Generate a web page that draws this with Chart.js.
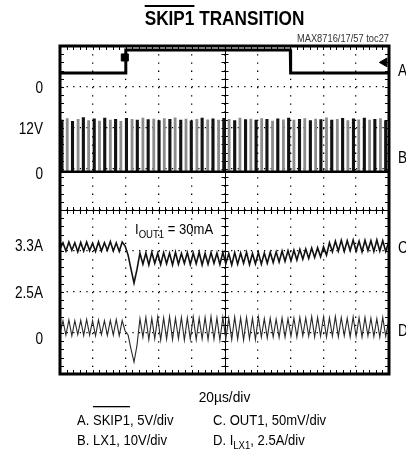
<!DOCTYPE html>
<html>
<head>
<meta charset="utf-8">
<script src="https://cdn.jsdelivr.net/npm/chart.js@4.4.0/dist/chart.umd.min.js"></script>
<style>
  html, body { margin: 0; padding: 0; background: #fff; }
  canvas { display: block; }
</style>
</head>
<body>
<canvas id="scope" width="406" height="452"></canvas>
<script>
// x in divisions (0..10, 20us/div), y in divisions (0..8 from the bottom)
var STEP = 0.09; // sample spacing of traces C and D

// A: SKIP1 level
var skipA = [[0, 7.34], [1.99, 7.34], [2.0, 7.9], [7.0, 7.9], [7.01, 7.34], [10, 7.34]];
var trigMark = [[1.97, 7.72]];
var gndMark = [[9.86, 7.6]];

// B: LX1 switching node, [start, peak]
var lxBase = [[0, 4.93], [10, 4.93]];
var lxPulses = [
  [0.04, 6.18], [0.2, 6.22], [0.36, 6.15], [0.53, 6.2], [0.69, 6.24], [0.85, 6.17],
  [1.02, 6.21], [1.18, 6.16], [1.34, 6.23], [1.51, 6.18], [1.67, 6.2], [1.83, 6.15],
  [2.0, 6.22], [2.17, 6.2], [2.33, 6.18], [2.5, 6.23], [2.66, 6.19], [2.83, 6.21],
  [2.99, 6.17], [3.15, 6.22], [3.32, 6.2], [3.48, 6.24], [3.65, 6.18], [3.81, 6.21],
  [3.97, 6.16], [4.14, 6.2], [4.3, 6.23], [4.47, 6.19], [4.63, 6.21], [4.8, 6.18],
  [4.96, 6.22], [5.12, 6.2], [5.29, 6.17], [5.45, 6.23], [5.62, 6.19], [5.78, 6.21],
  [5.94, 6.18], [6.11, 6.22], [6.27, 6.2], [6.44, 6.16], [6.6, 6.21], [6.77, 6.19],
  [6.93, 6.23], [7.09, 6.18], [7.26, 6.2], [7.42, 6.22], [7.59, 6.17], [7.75, 6.21],
  [7.91, 6.19], [8.08, 6.24], [8.24, 6.18], [8.41, 6.2], [8.57, 6.22], [8.73, 6.17],
  [8.9, 6.21], [9.06, 6.19], [9.23, 6.23], [9.39, 6.18], [9.55, 6.2], [9.72, 6.22], [9.88, 6.17]
];
var PULSE_W = 0.04;

// C: OUT1 (ac coupled)
var outC = [
  3.05, 3.2, 3.0, 3.22, 3.02, 3.2, 2.98, 3.21, 3.0, 3.22, 3.01, 3.19, 2.99, 3.22, 3.0, 3.2,
  3.02, 3.23, 3.0, 3.2, 2.99, 3.22,
  3.12, 2.9, 2.55, 2.22, 2.55, 2.95,
  2.68, 2.95, 2.66, 2.97, 2.7, 2.94, 2.67, 2.96, 2.69, 2.95, 2.66, 2.97, 2.68, 2.94, 2.7, 2.96,
  2.67, 2.95, 2.69, 2.97, 2.66, 2.94, 2.68, 2.96, 2.7, 2.95, 2.67, 2.97, 2.69, 2.94, 2.66, 2.96,
  2.68, 2.95, 2.7, 2.97, 2.67, 2.94, 2.69, 2.96, 2.68, 2.95,
  2.7, 2.97, 2.72, 2.98, 2.73, 3.0, 2.75, 3.01, 2.76, 3.02, 2.78, 3.04, 2.8, 3.05, 2.82, 3.07,
  2.84, 3.08, 2.86, 3.1, 2.9,
  3.2, 2.98, 3.24, 3.0, 3.26, 2.99, 3.25, 3.01, 3.27, 3.0, 3.24, 2.98, 3.26, 3.01, 3.25, 2.99,
  3.27, 3.0, 3.25, 2.99, 3.22
];

// D: inductor current ILX1
var ilxD = [
  1.0, 1.3, 0.95, 1.32, 0.93, 1.3, 0.96, 1.31, 0.94, 1.33, 0.95, 1.3, 0.93, 1.32, 0.96, 1.3,
  0.94, 1.31, 0.95, 1.33, 0.93, 1.3,
  1.05, 0.95, 0.6, 0.29, 0.7, 1.35,
  0.9, 1.38, 0.84, 1.36, 0.86, 1.39, 0.83, 1.37, 0.85, 1.4, 0.84, 1.36, 0.86, 1.38, 0.83, 1.37,
  0.85, 1.39, 0.84, 1.36, 0.86, 1.38, 0.84, 1.4, 0.85, 1.37, 0.83, 1.38, 0.86, 1.36, 0.84, 1.39,
  0.85, 1.37, 0.83, 1.38, 0.86, 1.36, 0.84, 1.39, 0.9, 1.35, 0.88, 1.36, 0.9, 1.34, 0.89, 1.37,
  0.9, 1.35, 0.92, 1.36, 0.9, 1.38, 0.93, 1.37, 0.92, 1.4, 0.9, 1.38, 0.92, 1.39, 0.9, 1.37,
  0.92, 1.4, 0.91, 1.38, 0.93, 1.36, 0.9, 1.39, 0.92, 1.37, 0.9, 1.38, 0.93, 1.36, 0.91, 1.35,
  0.9, 1.38, 0.92, 1.3
];

// axis text
var leftLabels = ['0', '12V', '0', '3.3A', '2.5A', '0'];
var leftLabelPos = [7.0, 6.0, 4.9, 3.15, 2.0, 0.88];
var chLabels = ['A', 'B', 'C', 'D'];
var chLabelPos = [7.41, 5.29, 3.1, 1.07];

var FAMILY = '"Liberation Sans", Arial, sans-serif';

function xy(list) {
  return list.map(function (p) { return { x: p[0], y: p[1] }; });
}

function sampled(values) {
  return values.map(function (v, i) { return { x: i * STEP, y: v }; });
}

// every other pulse goes to the grey trace
function pulses(list, odd) {
  var pts = [];
  list.forEach(function (p, i) {
    if ((i % 2 === 1) !== odd) return;
    pts.push({ x: p[0], y: lxBase[0][1] }, { x: p[0], y: p[1] },
      { x: p[0] + PULSE_W, y: p[1] }, { x: p[0] + PULSE_W, y: lxBase[0][1] },
      { x: p[0] + PULSE_W, y: null });
  });
  return pts;
}

function trace(data, color, width) {
  return {
    data: data, borderColor: color, borderWidth: width, showLine: true,
    pointRadius: 0, spanGaps: false, tension: 0
  };
}

// text with optional overline / subscript parts, squeezed horizontally
function drawText(ctx, parts, x, y, size, opts) {
  opts = opts || {};
  var sx = opts.sx || 0.86;
  var weight = opts.bold ? 'bold ' : '';
  var subSize = Math.round(size * 0.74);
  var widths = [];
  var total = 0;
  parts.forEach(function (p) {
    ctx.font = weight + (p[1] === 'sub' ? subSize : size) + 'px ' + FAMILY;
    var w = ctx.measureText(p[0]).width * sx;
    widths.push(w);
    total += w;
  });
  var cx = opts.align === 'center' ? x - total / 2 : (opts.align === 'right' ? x - total : x);
  ctx.save();
  ctx.fillStyle = opts.color || '#000';
  ctx.textAlign = 'left';
  ctx.textBaseline = 'alphabetic';
  parts.forEach(function (p, i) {
    var sub = p[1] === 'sub';
    ctx.font = weight + (sub ? subSize : size) + 'px ' + FAMILY;
    ctx.save();
    ctx.translate(cx, y + (sub ? size * 0.28 : 0));
    ctx.scale(sx, 1);
    ctx.fillText(p[0], 0, 0);
    ctx.restore();
    if (p[1] === 'over') {
      ctx.fillRect(cx, y - (opts.overAt || size), widths[i], opts.bold ? 2 : 1.3);
    }
    cx += widths[i];
  });
  ctx.restore();
}

var scopeFrame = {
  id: 'scopeFrame',
  beforeDatasetsDraw: function (chart) {
    var ctx = chart.ctx;
    var xs = chart.scales.x;
    var ys = chart.scales.y;
    var a = chart.chartArea;
    var cx = xs.getPixelForValue(5);
    var cy = ys.getPixelForValue(4);
    ctx.save();
    ctx.strokeStyle = '#000';
    ctx.lineWidth = 1;
    ctx.beginPath();
    ctx.moveTo(Math.round(cx) + 0.5, a.top);
    ctx.lineTo(Math.round(cx) + 0.5, a.bottom);
    ctx.moveTo(a.left, Math.round(cy) + 0.5);
    ctx.lineTo(a.right, Math.round(cy) + 0.5);
    // minor ticks, 5 per division
    for (var i = 1; i < 50; i++) {
      var px = Math.round(xs.getPixelForValue(i / 5)) + 0.5;
      ctx.moveTo(px, cy - 3); ctx.lineTo(px, cy + 4);
      ctx.moveTo(px, a.top); ctx.lineTo(px, a.top + 4);
      ctx.moveTo(px, a.bottom); ctx.lineTo(px, a.bottom - 4);
    }
    for (var j = 1; j < 40; j++) {
      var py = Math.round(ys.getPixelForValue(j / 5)) + 0.5;
      ctx.moveTo(cx - 3, py); ctx.lineTo(cx + 4, py);
      ctx.moveTo(a.left, py); ctx.lineTo(a.left + 4, py);
      ctx.moveTo(a.right, py); ctx.lineTo(a.right - 4, py);
    }
    ctx.stroke();
    ctx.restore();
  },
  afterDraw: function (chart) {
    var ctx = chart.ctx;
    var ys = chart.scales.y;
    var a = chart.chartArea;
    ctx.save();
    ctx.strokeStyle = '#000';
    ctx.lineWidth = 3;
    ctx.strokeRect(a.left, a.top, a.right - a.left, a.bottom - a.top);
    ctx.restore();

    var mid = (a.left + a.right) / 2;
    drawText(ctx, [['SKIP1', 'over'], [' TRANSITION', '']], mid, 25, 20,
      { bold: true, sx: 0.86, align: 'center', overAt: 20 });
    drawText(ctx, [['MAX8716/17/57 toc27', '']], a.right, 42, 10,
      { sx: 0.93, align: 'right', color: '#333' });

    leftLabels.forEach(function (t, i) {
      drawText(ctx, [[t, '']], 43, ys.getPixelForValue(leftLabelPos[i]) + 6, 16,
        { sx: 0.85, align: 'right' });
    });
    chLabels.forEach(function (t, i) {
      drawText(ctx, [[t, '']], 398, ys.getPixelForValue(chLabelPos[i]) + 6, 16, { sx: 0.85 });
    });

    drawText(ctx, [['I', ''], ['OUT1', 'sub'], [' = 30mA', '']], 135, 234, 15, { sx: 0.87 });

    drawText(ctx, [['20\u00b5s/div', '']], mid, 402, 15, { sx: 0.92, align: 'center' });
    drawText(ctx, [['A. ', ''], ['SKIP1', 'over'], [', 5V/div', '']], 77, 425, 15,
      { sx: 0.87, overAt: 19 });
    drawText(ctx, [['B. LX1, 10V/div', '']], 77, 445, 15, { sx: 0.87 });
    drawText(ctx, [['C. OUT1, 50mV/div', '']], 213, 425, 15, { sx: 0.87 });
    drawText(ctx, [['D. I', ''], ['LX1', 'sub'], [', 2.5A/div', '']], 213, 445, 15, { sx: 0.87 });
  }
};

document.addEventListener('DOMContentLoaded', function () {
  var ctx = document.getElementById('scope').getContext('2d');
  var gndDs = trace(xy(gndMark), '#000', 1);
  gndDs.showLine = false;
  gndDs.pointRadius = 5;
  gndDs.pointStyle = 'triangle';
  gndDs.rotation = 270;
  gndDs.pointBackgroundColor = '#000';
  var trigDs = trace(xy(trigMark), '#000', 1);
  trigDs.showLine = false;
  trigDs.pointRadius = 5;
  trigDs.pointStyle = 'rect';
  trigDs.pointBackgroundColor = '#000';

  new Chart(ctx, {
    type: 'scatter',
    data: {
      datasets: [
        trace(xy(lxBase), '#000', 2.5),
        trace(pulses(lxPulses, true), '#8c8c8c', 1.5),
        trace(pulses(lxPulses, false), '#111', 1.8),
        trace(xy(skipA), '#000', 3),
        trace(sampled(ilxD), '#2a2a2a', 1.1),
        trace(sampled(outC), '#111', 1.6),
        trigDs,
        gndDs
      ]
    },
    options: {
      responsive: false,
      animation: false,
      layout: { padding: { left: 60, top: 46, right: 17, bottom: 78 } },
      plugins: { legend: { display: false }, tooltip: { enabled: false }, title: { display: false } },
      scales: {
        x: {
          type: 'linear', min: 0, max: 10,
          ticks: { display: false, stepSize: 1 },
          grid: { color: '#000', lineWidth: 1.3, drawTicks: false },
          border: { display: false, dash: [1.3, 6.9] }
        },
        y: {
          type: 'linear', min: 0, max: 8,
          ticks: { display: false, stepSize: 1 },
          grid: { color: '#000', lineWidth: 1.3, drawTicks: false },
          border: { display: false, dash: [1.3, 5.28] }
        }
      }
    },
    plugins: [scopeFrame]
  });
});
</script>
</body>
</html>
